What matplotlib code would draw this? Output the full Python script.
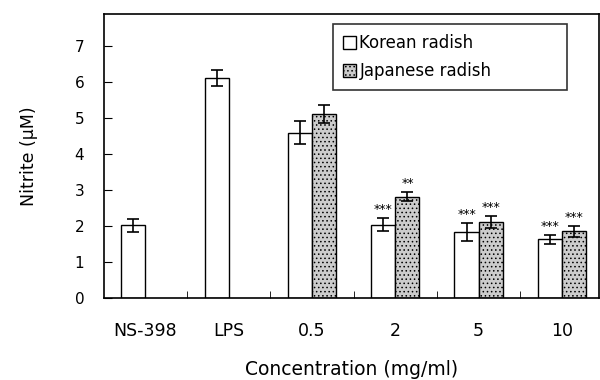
import numpy as np
import matplotlib.pyplot as plt

groups = ['NS-398', 'LPS', '0.5', '2', '5', '10']
korean = [2.02, 6.11, 4.60, 2.04, 1.84, 1.63]
korean_err = [0.19, 0.22, 0.32, 0.18, 0.25, 0.12]
japanese = [np.nan, np.nan, 5.12, 2.82, 2.12, 1.85]
japanese_err = [np.nan, np.nan, 0.24, 0.13, 0.17, 0.16]
korean_sig = ['', '', '', '***', '***', '***']
japanese_sig = ['', '', '', '**', '***', '***']

plt.rcParams['font.family'] = ['DejaVu Sans']
plt.rcParams['hatch.color'] = '#8a8a8a'
plt.rcParams['hatch.linewidth'] = 0.6

fig = plt.figure(figsize=[6, 3.8], dpi=100)
ax = fig.add_axes([0.173, 0.216, 0.826, 0.747])

x = np.arange(len(groups))
w = 0.29
ax.bar(x - w / 2, korean, w, yerr=korean_err, color='white', edgecolor='black',
       lw=1.0, capsize=4, error_kw=dict(elinewidth=1.2, capthick=1.2),
       label='Korean radish')
ax.bar(x + w / 2, japanese, w, yerr=japanese_err, color='#cccccc',
       edgecolor='black', lw=1.0, hatch='....', capsize=4,
       error_kw=dict(elinewidth=1.2, capthick=1.2), label='Japanese radish')

for i in range(len(groups)):
    if korean_sig[i]:
        ax.text(x[i] - w / 2, korean[i] + korean_err[i] + 0.05, korean_sig[i],
                ha='center', va='bottom', fontsize=9)
    if japanese_sig[i]:
        ax.text(x[i] + w / 2, japanese[i] + japanese_err[i] + 0.05, japanese_sig[i],
                ha='center', va='bottom', fontsize=9)

ax.set_xlim(-0.5, 5.45)
ax.set_ylim(0, 7.9)
ax.set_yticks(range(0, 8))
ax.tick_params(axis='y', direction='in', length=6, labelsize=11, pad=14)
ax.set_xticks(x)
ax.set_xticklabels(groups)
ax.tick_params(axis='x', length=0, labelsize=12.5, pad=17)
ax.set_xticks(x[:-1] + 0.5, minor=True)
ax.tick_params(axis='x', which='minor', direction='in', length=5)

ax.set_ylabel('Nitrite (\u03bcM)', fontsize=12.5, labelpad=26)
ax.set_xlabel('Concentration (mg/ml)', fontsize=13.5, labelpad=15)

leg = ax.legend(loc='upper left', bbox_to_anchor=(0.462, 0.955, 0.473, 0.01),
                mode='expand', fontsize=12,
                frameon=True, fancybox=False, edgecolor='black',
                handlelength=0.8, handleheight=0.8, handletextpad=0.2,
                borderpad=0.6, labelspacing=0.6, borderaxespad=0)
leg.get_frame().set_linewidth(1.2)

for s in ax.spines.values():
    s.set_linewidth(1.2)

plt.savefig('out.png')
